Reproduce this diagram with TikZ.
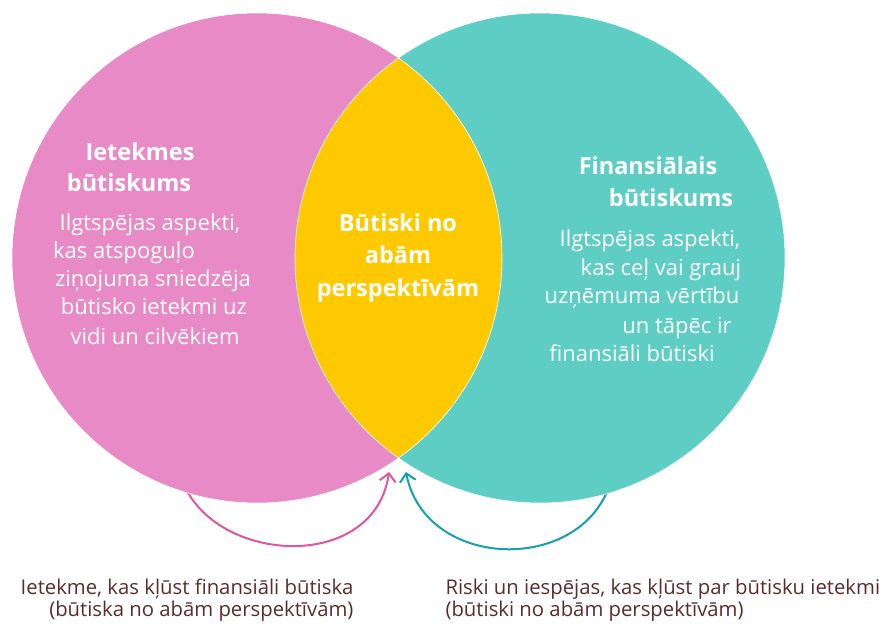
\documentclass[tikz,border=0pt]{standalone}
\usepackage{fontspec}
\setmainfont{Open Sans}
\usetikzlibrary{arrows.meta}

\definecolor{impactpink}{HTML}{E78AC5}
\definecolor{financeteal}{HTML}{5ECEC5}
\definecolor{bothyellow}{HTML}{FFC900}
\definecolor{pinkline}{HTML}{E0559E}
\definecolor{tealline}{HTML}{14A0AE}
\definecolor{captionbrown}{HTML}{5B2C2C}

\begin{document}
\begin{tikzpicture}[x=1pt,y=1pt,
    heading/.style={font=\bfseries\fontsize{23.5}{28}\selectfont, text=white, anchor=base},
    body/.style={font=\fontsize{22}{26}\selectfont, text=white, anchor=base},
    caption/.style={font=\fontsize{20.3}{24}\selectfont, text=captionbrown},
    loop/.style={line width=2pt, -{Straight Barb[length=8pt,width=16pt]}}]
    \useasboundingbox (0,0) rectangle (879,624);

    % bultas zem apļiem
    \coordinate (pinkstart) at (186,135);
    \coordinate (pinkend) at (389,152);
    \coordinate (tealstart) at (610,140);
    \coordinate (tealend) at (406,152);
    \draw[loop, pinkline] (pinkstart) .. controls (225,59) and (375,54) .. (pinkend);
    \draw[loop, tealline] (tealstart) .. controls (580,49) and (425,54) .. (tealend);

    % apļi
    \fill[impactpink] (257,366) circle (245);
    \fill[financeteal] (540,366) circle (245);
    \begin{scope}
        \clip (257,366) circle (245);
        \fill[bothyellow] (540,366) circle (245);
    \end{scope}
    \draw[white, line width=0.6pt] (257,366) circle (245) (540,366) circle (245);

    % ietekmes būtiskums
    \node[heading] (impacthead1) at (140,463) {Ietekmes};
    \node[heading] (impacthead2) at (129,432) {būtiskums};
    \node[body] (impact1) at (150,393) {Ilgtspējas aspekti,};
    \node[body] (impact2) at (124,365) {kas atspoguļo};
    \node[body] (impact3) at (153,337) {ziņojuma sniedzēja};
    \node[body] (impact4) at (154,309) {būtisko ietekmi uz};
    \node[body] (impact5) at (155,279) {vidi un cilvēkiem};

    % abas perspektīvas
    \node[heading] (both1) at (398,392) {Būtiski no};
    \node[heading] (both2) at (398,360) {abām};
    \node[heading] (both3) at (398,327) {perspektīvām};

    % finansiālais būtiskums
    \node[heading] (financehead1) at (648,449) {Finansiālais};
    \node[heading] (financehead2) at (671,417) {būtiskums};
    \node[body] (finance1) at (650,377) {Ilgtspējas aspekti,};
    \node[body] (finance2) at (661,348) {kas ceļ vai grauj};
    \node[body] (finance3) at (642,320) {uzņēmuma vērtību};
    \node[body] (finance4) at (677,290) {un tāpēc ir};
    \node[body] (finance5) at (632,262) {finansiāli būtiski};

    % paraksti
    \node[caption, anchor=base east] (leftcap1) at (357,29) {Ietekme, kas kļūst finansiāli būtiska};
    \node[caption, anchor=base east] (leftcap2) at (357,7) {(būtiska no abām perspektīvām)};
    \node[caption, anchor=base west] (rightcap1) at (442,29) {Riski un iespējas, kas kļūst par būtisku ietekmi};
    \node[caption, anchor=base west] (rightcap2) at (442,7) {(būtiski no abām perspektīvām)};
\end{tikzpicture}
\end{document}
